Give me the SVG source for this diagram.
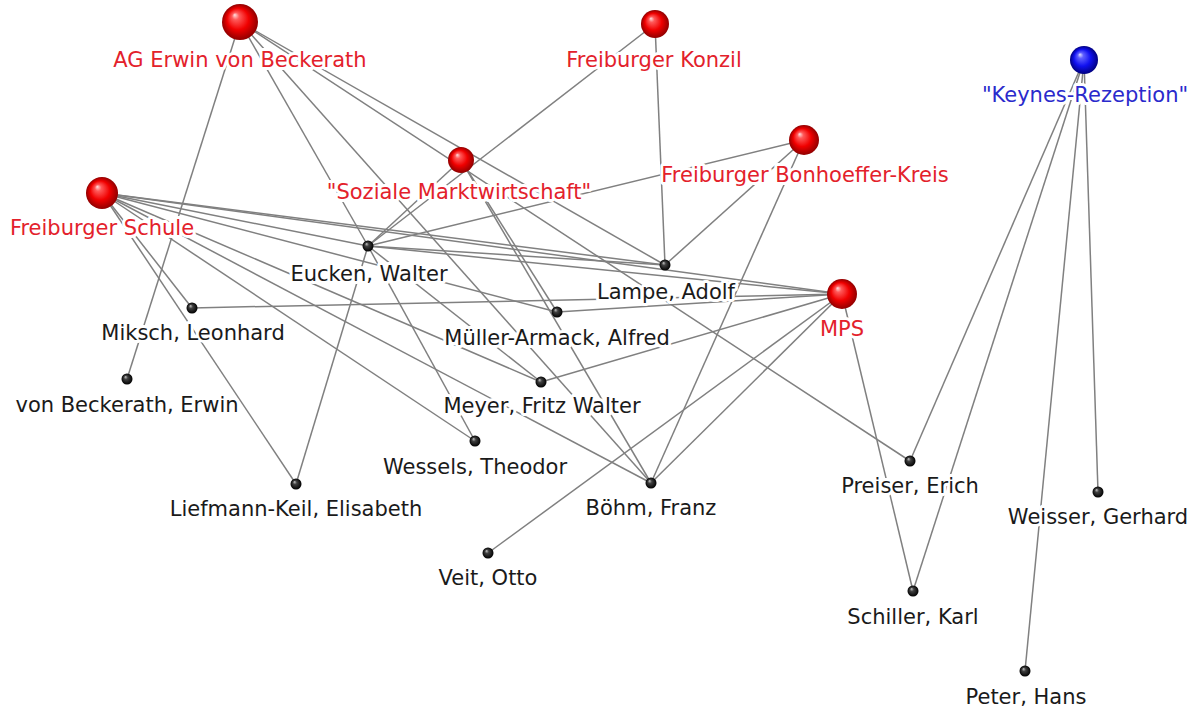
<svg xmlns="http://www.w3.org/2000/svg" width="1197" height="713" viewBox="0 0 1197 713">
<defs>
<radialGradient id="gRed" cx="0.5" cy="0.5" r="0.5" fx="0.35" fy="0.3">
<stop offset="0" stop-color="#ffe0e0"/>
<stop offset="0.2" stop-color="#ff5a5a"/>
<stop offset="0.6" stop-color="#f00000"/>
<stop offset="1" stop-color="#900000"/>
</radialGradient>
<radialGradient id="gBlue" cx="0.5" cy="0.5" r="0.5" fx="0.35" fy="0.3">
<stop offset="0" stop-color="#e0e0ff"/>
<stop offset="0.2" stop-color="#6060ff"/>
<stop offset="0.6" stop-color="#1010f0"/>
<stop offset="1" stop-color="#000080"/>
</radialGradient>
<radialGradient id="gDot" cx="0.5" cy="0.5" r="0.5" fx="0.35" fy="0.3">
<stop offset="0" stop-color="#c8c8c8"/>
<stop offset="0.35" stop-color="#404040"/>
<stop offset="1" stop-color="#000000"/>
</radialGradient>
</defs>
<style>
.e line{stroke:#808080;stroke-width:1.5;fill:none}
text{font-family:"DejaVu Sans","Liberation Sans",sans-serif;font-size:21px;text-anchor:middle;paint-order:stroke;stroke:#ffffff;stroke-width:6px;stroke-linejoin:round}
.g text{fill:#e3212b}
.k text{fill:#2a2acc}
.p text{fill:#1a1a1a}
.g circle{fill:url(#gRed)}
.k circle{fill:url(#gBlue)}
.p circle{fill:url(#gDot)}
</style>
<rect width="1197" height="713" fill="#ffffff"/>
<g id="connectors" class="e">
<!-- AG Erwin von Beckerath -->
<line x1="240" y1="22" x2="127" y2="379"/>
<line x1="240" y1="22" x2="368" y2="246"/>
<line x1="240" y1="22" x2="651" y2="483"/>
<line x1="240" y1="22" x2="665" y2="265"/>
<line x1="240" y1="22" x2="910" y2="461"/>
<!-- Freiburger Schule -->
<line x1="102" y1="193" x2="368" y2="246"/>
<line x1="102" y1="193" x2="665" y2="265"/>
<line x1="102" y1="193" x2="842" y2="294"/>
<line x1="102" y1="193" x2="192" y2="308"/>
<line x1="102" y1="193" x2="296" y2="484"/>
<line x1="102" y1="193" x2="475" y2="441"/>
<line x1="102" y1="193" x2="541" y2="382"/>
<line x1="102" y1="193" x2="651" y2="483"/>
<line x1="102" y1="193" x2="557" y2="312"/>
<!-- Soziale Marktwirtschaft -->
<line x1="461" y1="160" x2="368" y2="246"/>
<line x1="461" y1="160" x2="557" y2="312"/>
<line x1="461" y1="160" x2="651" y2="483"/>
<!-- Freiburger Konzil -->
<line x1="655" y1="24" x2="368" y2="246"/>
<line x1="655" y1="24" x2="665" y2="265"/>
<!-- Freiburger Bonhoeffer-Kreis -->
<line x1="804" y1="140" x2="368" y2="246"/>
<line x1="804" y1="140" x2="665" y2="265"/>
<line x1="804" y1="140" x2="651" y2="483"/>
<!-- MPS -->
<line x1="842" y1="294" x2="368" y2="246"/>
<line x1="842" y1="294" x2="192" y2="308"/>
<line x1="842" y1="294" x2="557" y2="312"/>
<line x1="842" y1="294" x2="541" y2="382"/>
<line x1="842" y1="294" x2="651" y2="483"/>
<line x1="842" y1="294" x2="488" y2="553"/>
<line x1="842" y1="294" x2="913" y2="591"/>
<!-- Keynes-Rezeption -->
<line x1="1084" y1="60" x2="910" y2="461"/>
<line x1="1084" y1="60" x2="913" y2="591"/>
<line x1="1084" y1="60" x2="1025" y2="671"/>
<line x1="1084" y1="60" x2="1098" y2="492"/>
<!-- Eucken -->
<line x1="368" y1="246" x2="296" y2="484"/>
<line x1="368" y1="246" x2="475" y2="441"/>
<line x1="368" y1="246" x2="541" y2="382"/>
<line x1="368" y1="246" x2="665" y2="265"/>
</g>
<g id="node-ag" class="g"><circle cx="240" cy="22" r="18"/><text x="240" y="67">AG Erwin von Beckerath</text></g>
<g id="node-konzil" class="g"><circle cx="655" cy="24" r="14"/><text x="654" y="67">Freiburger Konzil</text></g>
<g id="node-soziale" class="g"><circle cx="461" cy="160" r="13"/><text x="459" y="199">"Soziale Marktwirtschaft"</text></g>
<g id="node-bonhoeffer" class="g"><circle cx="804" cy="140" r="15"/><text x="805" y="182">Freiburger Bonhoeffer-Kreis</text></g>
<g id="node-schule" class="g"><circle cx="102" cy="193" r="16"/><text x="102" y="235">Freiburger Schule</text></g>
<g id="node-mps" class="g"><circle cx="842" cy="294" r="15"/><text x="842" y="336">MPS</text></g>
<g id="node-keynes" class="k"><circle cx="1084" cy="60" r="14"/><text x="1085" y="102">"Keynes-Rezeption"</text></g>
<g id="node-eucken" class="p"><circle cx="368" cy="246" r="5.5"/><text x="369" y="281">Eucken, Walter</text></g>
<g id="node-lampe" class="p"><circle cx="665" cy="265" r="5.5"/><text x="666" y="299">Lampe, Adolf</text></g>
<g id="node-miksch" class="p"><circle cx="192" cy="308" r="5.5"/><text x="193" y="340">Miksch, Leonhard</text></g>
<g id="node-mueller" class="p"><circle cx="557" cy="312" r="5.5"/><text x="557" y="345">Müller-Armack, Alfred</text></g>
<g id="node-beckerath" class="p"><circle cx="127" cy="379" r="5.5"/><text x="127" y="412">von Beckerath, Erwin</text></g>
<g id="node-meyer" class="p"><circle cx="541" cy="382" r="5.5"/><text x="542" y="413">Meyer, Fritz Walter</text></g>
<g id="node-wessels" class="p"><circle cx="475" cy="441" r="5.5"/><text x="475" y="474">Wessels, Theodor</text></g>
<g id="node-liefmann" class="p"><circle cx="296" cy="484" r="5.5"/><text x="296" y="516">Liefmann-Keil, Elisabeth</text></g>
<g id="node-boehm" class="p"><circle cx="651" cy="483" r="5.5"/><text x="651" y="515">Böhm, Franz</text></g>
<g id="node-veit" class="p"><circle cx="488" cy="553" r="5.5"/><text x="488" y="585">Veit, Otto</text></g>
<g id="node-preiser" class="p"><circle cx="910" cy="461" r="5.5"/><text x="910" y="493">Preiser, Erich</text></g>
<g id="node-weisser" class="p"><circle cx="1098" cy="492" r="5.5"/><text x="1098" y="524">Weisser, Gerhard</text></g>
<g id="node-schiller" class="p"><circle cx="913" cy="591" r="5.5"/><text x="913" y="624">Schiller, Karl</text></g>
<g id="node-peter" class="p"><circle cx="1025" cy="671" r="5.5"/><text x="1026" y="704">Peter, Hans</text></g>
</svg>
